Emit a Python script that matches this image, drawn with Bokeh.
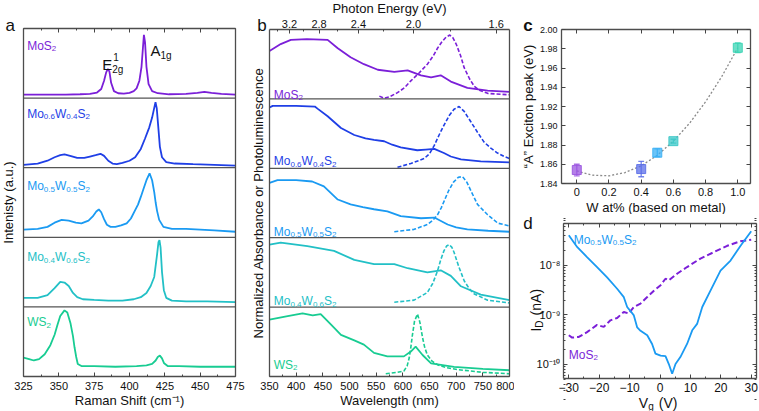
import math
from bokeh.plotting import figure
from bokeh.models import (Range1d, LinearAxis, LogAxis, FixedTicker, SingleIntervalTicker, Label,
                          CustomJSTickFormatter, PrintfTickFormatter)
from bokeh.layouts import row, column
from bokeh.embed import file_html
from bokeh.resources import INLINE

FONT = "Liberation Sans"

# ---------------- colours per composition ----------------
c_mos2 = "#7b1fd8"
c_mo06 = "#1f3fe6"
c_mo05 = "#1a9af2"
c_mo04 = "#22c0c6"
c_ws2 = "#18cc92"

# ---------------- panel a : Raman spectra ----------------
ram_mos2_x = [325, 340, 355, 365, 372, 377, 380, 382, 383.5, 384.7, 385.8, 387, 389, 392, 396, 400, 403, 405, 407,
              408.5, 409.5, 410.2, 411, 412, 413.5, 416, 420, 428, 440, 448, 453, 458, 465, 475]
ram_mos2_y = [0.05, 0.05, 0.05, 0.055, 0.06, 0.08, 0.13, 0.25, 0.37, 0.42, 0.38, 0.22, 0.1, 0.07, 0.065, 0.075, 0.1,
              0.14, 0.25, 0.45, 0.72, 0.91, 0.8, 0.45, 0.2, 0.1, 0.07, 0.055, 0.06, 0.075, 0.09, 0.075, 0.06, 0.05]
ram_mo06_x = [325, 335, 342, 347, 351, 354, 358, 363, 368, 372, 376, 379.5, 382, 385, 388, 391, 395, 400, 404, 408,
              411, 414, 416, 417.5, 418.4, 419.3, 420.3, 421.5, 423, 426, 432, 445, 460, 475]
ram_mo06_y = [0.04, 0.06, 0.1, 0.15, 0.18, 0.19, 0.17, 0.14, 0.14, 0.16, 0.18, 0.2, 0.17, 0.1, 0.06, 0.05, 0.07, 0.1,
              0.15, 0.27, 0.42, 0.58, 0.72, 0.86, 0.94, 0.85, 0.6, 0.3, 0.15, 0.08, 0.06, 0.05, 0.04, 0.03]
ram_mo05_x = [325, 335, 342, 347, 352, 357, 362, 366, 371, 374, 376.5, 378.3, 380, 382, 384, 386.6, 390, 394, 398, 401,
              404, 406, 408, 410, 412, 414.2, 416, 417.5, 418.5, 419.5, 421, 424, 430, 440, 450, 460, 475]
ram_mo05_y = [0.11, 0.12, 0.15, 0.21, 0.25, 0.24, 0.21, 0.2, 0.24, 0.3, 0.37, 0.4, 0.36, 0.26, 0.18, 0.15, 0.15, 0.17,
              0.2, 0.27, 0.39, 0.47, 0.58, 0.7, 0.82, 0.92, 0.82, 0.65, 0.5, 0.38, 0.25, 0.15, 0.12, 0.12, 0.11, 0.1, 0.08]
ram_mo04_x = [325, 335, 342, 347, 351, 354, 357, 360, 363, 367, 375, 385, 395, 403, 408, 412, 415, 417.5, 419.5, 420.5,
              421.2, 422, 423, 424.3, 426, 430, 440, 455, 475]
ram_mo04_y = [0.13, 0.13, 0.17, 0.27, 0.36, 0.35, 0.3, 0.2, 0.14, 0.11, 0.1, 0.09, 0.09, 0.11, 0.14, 0.2, 0.3, 0.43,
              0.75, 0.93, 0.96, 0.85, 0.5, 0.24, 0.13, 0.09, 0.08, 0.08, 0.07]
ram_ws2_x = [325, 329, 332.3, 336, 340, 344, 347, 349, 351, 354, 356, 358.3, 360, 361.1, 362.3, 363.4, 366, 375, 390,
             405, 412, 416, 418.5, 420, 421.5, 423, 424.5, 427, 435, 450, 475]
ram_ws2_y = [0.27, 0.25, 0.23, 0.25, 0.32, 0.45, 0.6, 0.74, 0.87, 0.95, 0.92, 0.76, 0.58, 0.42, 0.28, 0.18, 0.15, 0.15,
             0.14, 0.15, 0.16, 0.18, 0.23, 0.28, 0.3, 0.26, 0.19, 0.15, 0.15, 0.14, 0.14]

# ---------------- panel b : absorbance (solid) and PL (dashed) ----------------
abs_mos2_x = [350, 371, 390, 420, 459, 478, 502, 527, 553, 584, 609, 634, 653, 671, 690, 721, 759, 800]
abs_mos2_y = [0.69, 0.79, 0.85, 0.86, 0.85, 0.73, 0.6, 0.5, 0.42, 0.39, 0.41, 0.34, 0.31, 0.34, 0.25, 0.16, 0.12, 0.1]
pl_mos2_x = [556, 565, 575, 590, 603, 615, 630, 646, 657, 665, 673, 681, 688, 694, 700, 708, 715, 725, 734, 745, 759, 775, 800]
pl_mos2_y = [0.04, 0.01, 0.03, 0.09, 0.16, 0.26, 0.37, 0.5, 0.62, 0.73, 0.82, 0.89, 0.92, 0.88, 0.79, 0.63, 0.45, 0.29,
             0.18, 0.12, 0.08, 0.07, 0.06]
abs_mo06_x = [350, 356, 400, 435, 440, 459, 484, 509, 530, 546, 565, 580, 596, 627, 643, 659, 677, 690, 709, 746, 800]
abs_mo06_y = [0.875, 0.9, 0.9, 0.89, 0.86, 0.75, 0.58, 0.48, 0.43, 0.41, 0.39, 0.34, 0.3, 0.26, 0.27, 0.28, 0.22, 0.17,
              0.13, 0.1, 0.085]
pl_mo06_x = [590, 615, 640, 650, 659, 668, 677, 687, 696, 705.5, 715, 727.5, 740, 752, 765, 777.5, 790, 800]
pl_mo06_y = [0.015, 0.07, 0.14, 0.21, 0.33, 0.48, 0.62, 0.76, 0.85, 0.89, 0.82, 0.67, 0.52, 0.38, 0.29, 0.22, 0.17, 0.14]
abs_mo05_x = [350, 365, 400, 430, 452, 478, 502, 525, 546, 571, 596, 634, 659, 684, 700, 721, 760, 800]
abs_mo05_y = [0.79, 0.83, 0.83, 0.81, 0.74, 0.55, 0.48, 0.44, 0.41, 0.38, 0.31, 0.28, 0.29, 0.19, 0.15, 0.12, 0.1, 0.086]
pl_mo05_x = [584, 621, 646, 656, 665, 672, 677, 686, 695, 704, 712, 720, 728, 740, 759, 778, 800]
pl_mo05_y = [0.086, 0.12, 0.19, 0.25, 0.33, 0.43, 0.52, 0.68, 0.8, 0.87, 0.88, 0.8, 0.67, 0.48, 0.33, 0.21, 0.17]
abs_mo04_x = [350, 371, 421, 471, 509, 546, 584, 609, 646, 671, 690, 709, 746, 800]
abs_mo04_y = [0.9, 0.93, 0.88, 0.81, 0.68, 0.62, 0.62, 0.56, 0.5, 0.53, 0.45, 0.3, 0.18, 0.1]
pl_mo04_x = [584, 621, 646, 656, 665, 671, 677, 682, 687, 692, 696, 705, 715, 725, 734, 759, 800]
pl_mo04_y = [0.07, 0.1, 0.21, 0.34, 0.52, 0.68, 0.81, 0.88, 0.9, 0.86, 0.79, 0.58, 0.38, 0.26, 0.19, 0.1, 0.06]
abs_ws2_x = [350, 384, 412, 431, 446, 465, 484, 509, 527, 546, 571, 602, 615, 624, 637, 653, 696, 750, 800]
abs_ws2_y = [0.82, 0.87, 0.91, 0.88, 0.9, 0.75, 0.6, 0.52, 0.46, 0.34, 0.29, 0.29, 0.36, 0.43, 0.31, 0.19, 0.14, 0.11, 0.09]
pl_ws2_x = [568, 590, 602, 608, 612, 615, 618, 622, 627.5, 632, 637, 641, 646, 655, 665, 680, 702, 750, 800]
pl_ws2_y = [0.04, 0.06, 0.08, 0.15, 0.27, 0.42, 0.6, 0.8, 0.9, 0.78, 0.56, 0.42, 0.31, 0.22, 0.17, 0.13, 0.1, 0.06, 0.04]

energy_ticks = [3.2, 2.8, 2.4, 2.0, 1.6]
energy_minor = [3.4, 3.0, 2.6, 2.2, 1.8]

# ---------------- panel c : A exciton peak ----------------
w_frac = [0, 0.4, 0.5, 0.6, 1.0]
a_peak = [1.854, 1.855, 1.872, 1.884, 1.981]
a_err = [0.006, 0.008, 0.004, 0.002, 0.005]
pt_colors = ["#9b55e0", "#5b6ee8", "#3ab0f5", "#3cc8c8", "#3ad4b4"]
fit_x = [0, 0.1, 0.2, 0.3, 0.4, 0.5, 0.6, 0.7, 0.8, 0.9, 1.0]
fit_y = [1.853, 1.8486, 1.848, 1.8514, 1.8584, 1.8693, 1.884, 1.9025, 1.9249, 1.951, 1.981]
c_xticks = [0, 0.2, 0.4, 0.6, 0.8, 1.0]
c_xtick_labels = ["0", "0.2", "0.4", "0.6", "0.8", "1.0"]
c_yticks = [1.84, 1.86, 1.88, 1.90, 1.92, 1.94, 1.96, 1.98, 2.00]

# ---------------- panel d : transfer curves ----------------
vg_alloy = [-30, -27.2, -24, -20.7, -17.4, -14.1, -11.9, -10.8, -9.7, -8.6, -7.5, -6.4, -4.2, -2.6, -1.5, 0.2, 1.8,
            2.9, 4.0, 5.1, 6.7, 8.9, 10.6, 12.2, 13.9, 16.6, 19.9, 23.2, 26.5, 30]
id_alloy = [4.07e-8, 2.34e-8, 1.48e-8, 9.3e-9, 5.75e-9, 3.39e-9, 2.29e-9, 1.45e-9, 1.2e-9, 9.8e-10, 5.6e-10, 4.8e-10,
            3.9e-10, 2.6e-10, 1.66e-10, 1.51e-10, 1.48e-10, 1.02e-10, 6.5e-11, 1.02e-10, 1.41e-10, 2.6e-10, 4.9e-10,
            6.6e-10, 1.45e-9, 3.1e-9, 7.9e-9, 1.26e-8, 2.5e-8, 4.9e-8]
vg_mos2 = [-30, -28.9, -26.7, -24, -20.7, -18.5, -16.3, -14.1, -11.9, -10.3, -8.6, -6.4, -4.2, -2.0, 0.2, 1.8, 2.9,
           5.6, 8.9, 13.3, 17.7, 22.1, 26.5, 30]
id_mos2 = [3.9e-10, 3.5e-10, 3.6e-10, 4.5e-10, 6.3e-10, 5.75e-10, 7.8e-10, 8.7e-10, 1.15e-9, 1.07e-9, 1.45e-9, 1.7e-9,
           2.3e-9, 3.1e-9, 4.0e-9, 5.4e-9, 5.0e-9, 6.8e-9, 9.3e-9, 1.38e-8, 1.86e-8, 2.5e-8, 3.1e-8, 3.3e-8]

# ---------------- text helpers ----------------
CW = {'M': .833, 'o': .556, 'W': .944, 'S': .667, '.': .278, 'E': .667, 'A': .667, 'g': .556, ' ': .278,
      '(': .333, ')': .333, 'n': .556, 'V': .667, 'I': .278, 'D': .722, 'a': .556}

F_MOS2 = [("MoS", "n"), ("2", "sub")]
F_WS2 = [("WS", "n"), ("2", "sub")]


def alloy(mo, w):
    return [("Mo", "n"), (mo, "sub"), ("W", "n"), (w, "sub"), ("S", "n"), ("2", "sub")]


def tw(s, size):
    return sum(CW.get(ch, 0.556) for ch in s) * size


def lab(p, x, y, text, color="#111111", size=12, xo=0, yo=0, align="left", angle=0, style="normal"):
    p.add_layout(Label(x=x, y=y, x_offset=xo, y_offset=yo, text=text, text_font=FONT, text_font_size=f"{size}px",
                       text_color=color, text_align=align, text_baseline="alphabetic", angle=angle,
                       text_font_style=style))


def rich(p, x, y, segs, color, fs=12, xo=0, yo=0, vertical=False):
    """Compose a label from normal / subscript pieces (leading spaces become an advance)."""
    pos = 0.0
    small = round(fs * 0.68)
    for txt, kind in segs:
        size = fs if kind == "n" else small
        stripped = txt.lstrip(" ")
        pos += (len(txt) - len(stripped)) * 0.36 * size
        shift = 0 if kind == "n" else (-0.26 * fs if kind == "sub" else 0.4 * fs)
        if vertical:
            lab(p, x, y, stripped, color, size, xo - shift, yo + pos, angle=math.pi / 2)
        else:
            lab(p, x, y, stripped, color, size, xo + pos, yo + shift)
        pos += tw(stripped, size)


# ---------------- figure / axis helpers ----------------
def panel(w, h, box, xr, yr, log_y=False):
    """Figure whose frame fills the whole figure; box = pixel edges (l, r, t, b) of the drawn axes box."""
    l, r, t, b = box
    kx = (xr[1] - xr[0]) / (r - l)
    xs, xe = xr[0] - l * kx, xr[1] + (w - r) * kx
    y0, y1 = (math.log10(yr[0]), math.log10(yr[1])) if log_y else yr
    ky = (y1 - y0) / (b - t)
    ys, ye = y0 - (h - b) * ky, y1 + t * ky
    if log_y:
        ys, ye = 10 ** ys, 10 ** ye
    p = figure(width=w, height=h, x_range=Range1d(xs, xe), y_range=Range1d(ys, ye),
               y_axis_type="log" if log_y else "linear", x_axis_location=None, y_axis_location=None,
               output_backend="svg", toolbar_location=None,
               min_border_left=0, min_border_right=0, min_border_top=0, min_border_bottom=0)
    p.xgrid.visible = False
    p.ygrid.visible = False
    p.outline_line_color = None
    p.background_fill_color = "white"
    p.border_fill_color = "white"
    return p


def axis(p, side, loc, bounds, ticker, formatter=None, size="11px", standoff=4, label=None, label_standoff=0,
         log=False, blank=False):
    ax = (LogAxis if log else LinearAxis)(fixed_location=loc, bounds=bounds, ticker=ticker)
    ax.axis_line_color = "#4d4d4d"
    ax.axis_line_width = 1.3
    ax.major_tick_in = 4
    ax.major_tick_out = 0
    ax.minor_tick_in = 2
    ax.minor_tick_out = 0
    ax.major_tick_line_color = "#444444"
    ax.minor_tick_line_color = "#444444"
    ax.major_label_text_font = FONT
    ax.major_label_text_font_size = size
    ax.major_label_text_color = "#111111"
    ax.major_label_standoff = standoff
    if blank:
        ax.formatter = CustomJSTickFormatter(code="return ''")
        ax.major_label_text_font_size = "1px"
        ax.major_label_standoff = 0
    elif formatter is not None:
        ax.formatter = formatter
    if label is not None:
        ax.axis_label = label
        ax.axis_label_standoff = label_standoff
        ax.axis_label_text_font = FONT
        ax.axis_label_text_font_size = "13px"
        ax.axis_label_text_font_style = "normal"
        ax.axis_label_text_color = "#111111"
    p.add_layout(ax, side)
    return ax


def stacked_separators(p, xr, n):
    ys = list(range(1, n))
    p.segment(x0=[xr[0]] * len(ys), y0=ys, x1=[xr[1]] * len(ys), y1=ys, line_color="#555555", line_width=1.2)


# ================= panel a =================
AX = (325, 475)
pa = panel(249, 411, (23, 235, 28, 376), AX, (0, 5))
ram_sets = [(ram_mos2_x, ram_mos2_y, c_mos2), (ram_mo06_x, ram_mo06_y, c_mo06), (ram_mo05_x, ram_mo05_y, c_mo05),
            (ram_mo04_x, ram_mo04_y, c_mo04), (ram_ws2_x, ram_ws2_y, c_ws2)]
for k, (xs, ys, col) in enumerate(ram_sets):
    off = 4 - k
    pa.line(xs, [v + off for v in ys], line_color=col, line_width=1.8)
stacked_separators(pa, AX, 5)
axis(pa, "below", 0, AX, SingleIntervalTicker(interval=25, num_minor_ticks=2), size="11px", standoff=5,
     label="Raman Shift (cm\u207b\u00b9)", label_standoff=0)
axis(pa, "above", 5, AX, SingleIntervalTicker(interval=25, num_minor_ticks=2), blank=True)
axis(pa, "left", AX[0], (0, 5), FixedTicker(ticks=[]), blank=True, label="Intenisty (a.u.)", label_standoff=8)
axis(pa, "right", AX[1], (0, 5), FixedTicker(ticks=[]), blank=True)

labels_a = [(F_MOS2, c_mos2, 5, -17), (alloy("0.6", "0.4"), c_mo06, 4, -15.6),
            (alloy("0.5", "0.5"), c_mo05, 3, -18.3), (alloy("0.4", "0.6"), c_mo04, 2, -20),
            (F_WS2, c_ws2, 1, -15)]
for segs, col, ytop, yo in labels_a:
    rich(pa, 327.6, ytop, segs, col, 12, 0, yo)
lab(pa, 380.7, 5, "E", "#111111", 15, 0, -36)
lab(pa, 388.5, 5, "1", "#111111", 10, 0, -28)
lab(pa, 387.8, 5, "2g", "#111111", 10, 0, -40.5)
lab(pa, 414.9, 5, "A", "#111111", 15, 0, -22)
lab(pa, 421.9, 5, "1g", "#111111", 10, 0, -27)
lab(pa, 325, 5, "a", "#111111", 17, -18, 3)

# ================= panel b =================
BX = (350, 800)
pb = panel(265, 411, (20, 260, 29, 376), BX, (0, 5))
b_sets = [(abs_mos2_x, abs_mos2_y, pl_mos2_x, pl_mos2_y, c_mos2),
          (abs_mo06_x, abs_mo06_y, pl_mo06_x, pl_mo06_y, c_mo06),
          (abs_mo05_x, abs_mo05_y, pl_mo05_x, pl_mo05_y, c_mo05),
          (abs_mo04_x, abs_mo04_y, pl_mo04_x, pl_mo04_y, c_mo04),
          (abs_ws2_x, abs_ws2_y, pl_ws2_x, pl_ws2_y, c_ws2)]
for k, (ax_, ay_, px_, py_, col) in enumerate(b_sets):
    off = 4 - k
    pb.line(px_, [v + off for v in py_], line_color=col, line_width=1.6, line_dash="4 2")
    pb.line(ax_, [v + off for v in ay_], line_color=col, line_width=1.8)
stacked_separators(pb, BX, 5)
axis(pb, "below", 0, BX, SingleIntervalTicker(interval=50, num_minor_ticks=2), size="11px", standoff=5,
     label="Wavelength (nm)", label_standoff=0)
axis(pb, "above", 5, BX,
     FixedTicker(ticks=[1240 / e for e in energy_ticks], minor_ticks=[1240 / e for e in energy_minor]),
     formatter=CustomJSTickFormatter(code="return (1240/tick).toFixed(1)"), size="11px", standoff=2,
     label="Photon Energy (eV)", label_standoff=1)
axis(pb, "left", BX[0], (0, 5), FixedTicker(ticks=[]), blank=True,
     label="Normalized Absorbance or Photoluminescence", label_standoff=4)
axis(pb, "right", BX[1], (0, 5), FixedTicker(ticks=[]), blank=True)
labels_b = [(F_MOS2, c_mos2, 5, -65), (alloy("0.6", "0.4"), c_mo06, 4, -62.3),
            (alloy("0.5", "0.5"), c_mo05, 3, -63.2), (alloy("0.4", "0.6"), c_mo04, 2, -63.5),
            (F_WS2, c_ws2, 1, -57.4)]
for segs, col, ytop, yo in labels_b:
    rich(pb, 358, ytop, segs, col, 12, 0, yo)
lab(pb, 350, 5, "b", "#111111", 17, -12.3, 4)

# ================= panel c =================
CXR = (-0.095, 1.079)
CYR = (1.84, 2.00)
pc = panel(245, 214, (47, 236, 29, 183), CXR, CYR)
pc.line(fit_x, fit_y, line_color="#8a8a8a", line_width=1.3, line_dash="2 2")
pc.segment(x0=w_frac, y0=[a - e for a, e in zip(a_peak, a_err)], x1=w_frac,
           y1=[a + e for a, e in zip(a_peak, a_err)], line_color=pt_colors, line_width=1.3, line_alpha=0.85)
for sgn in (-1, 1):
    ys = [a + sgn * e for a, e in zip(a_peak, a_err)]
    pc.segment(x0=[w - 0.018 for w in w_frac], y0=ys, x1=[w + 0.018 for w in w_frac], y1=ys,
               line_color=pt_colors, line_width=1.3, line_alpha=0.85)
pc.scatter(w_frac, a_peak, marker="square", size=9, fill_color=pt_colors, fill_alpha=0.75, line_color=pt_colors,
           line_alpha=0.9)
xc = axis(pc, "below", CYR[0], CXR, FixedTicker(ticks=c_xticks), size="11px", standoff=4,
          label="W at% (based on metal)", label_standoff=1)
xc.major_label_overrides = {t: s for t, s in zip(c_xticks, c_xtick_labels)}
axis(pc, "left", CXR[0], CYR, FixedTicker(ticks=c_yticks), formatter=PrintfTickFormatter(format="%.2f"),
     size="9px", standoff=4, label="\u201cA\u201d Exciton peak (eV)", label_standoff=1)
axis(pc, "above", CYR[1], CXR, FixedTicker(ticks=c_xticks), blank=True)
axis(pc, "right", CXR[1], CYR, FixedTicker(ticks=c_yticks), blank=True)
lab(pc, CXR[0], CYR[1], "c", "#111111", 17, -38.3, 4, style="bold")

# ================= panel d =================
DXR = (-31.74, 31.74)
DYR = (10 ** -10.283, 10 ** -7.152)
pd_ = panel(245, 197, (49, 242, 9, 164), DXR, DYR, log_y=True)
pd_.line(vg_mos2, id_mos2, line_color=c_mos2, line_width=2, line_dash="6 3")
pd_.line(vg_alloy, id_alloy, line_color=c_mo05, line_width=1.8)
log_major = [1e-10, 1e-9, 1e-8]
log_minor = [m * 10.0 ** e for e in (-11, -10, -9, -8) for m in range(2, 10)]
sup_js = ("const e = Math.round(Math.log10(tick));"
          "const m = {'-':'\u207b','0':'\u2070','1':'\u00b9','2':'\u00b2','3':'\u00b3','4':'\u2074',"
          "'5':'\u2075','6':'\u2076','7':'\u2077','8':'\u2078','9':'\u2079'};"
          "return '10' + String(e).split('').map(c => m[c]).join('');")
axis(pd_, "below", DYR[0], DXR, SingleIntervalTicker(interval=10, num_minor_ticks=2),
     formatter=CustomJSTickFormatter(code="return tick < 0 ? '\u2212' + Math.abs(tick) : String(tick)"),
     size="12px", standoff=4)
axis(pd_, "left", DXR[0], DYR, FixedTicker(ticks=log_major, minor_ticks=log_minor),
     formatter=CustomJSTickFormatter(code=sup_js), size="11px", standoff=3, log=True)
axis(pd_, "above", DYR[1], DXR, SingleIntervalTicker(interval=10, num_minor_ticks=2), blank=True)
axis(pd_, "right", DXR[1], DYR, FixedTicker(ticks=log_major, minor_ticks=log_minor), blank=True, log=True)
rich(pd_, -28.4, 3.3e-8, alloy("0.5", "0.5"), c_mo05, 12)
rich(pd_, -30, 1.58e-10, F_MOS2, c_mos2, 12)
rich(pd_, DXR[0], DYR[0], [("V", "n"), ("g", "sub"), (" (V)", "n")], "#111111", 14, 75.3, -24)
rich(pd_, DXR[0], 1.35e-9, [("I", "n"), ("D", "sub"), (" (nA)", "n")], "#111111", 14, -28, -23, vertical=True)
lab(pd_, DXR[0], DYR[1], "d", "#111111", 17, -40.3, 0)

layout = row(pa, pb, column(pc, pd_, spacing=0), spacing=0)
open("out.html", "w", encoding="utf-8").write(file_html(layout, INLINE))
